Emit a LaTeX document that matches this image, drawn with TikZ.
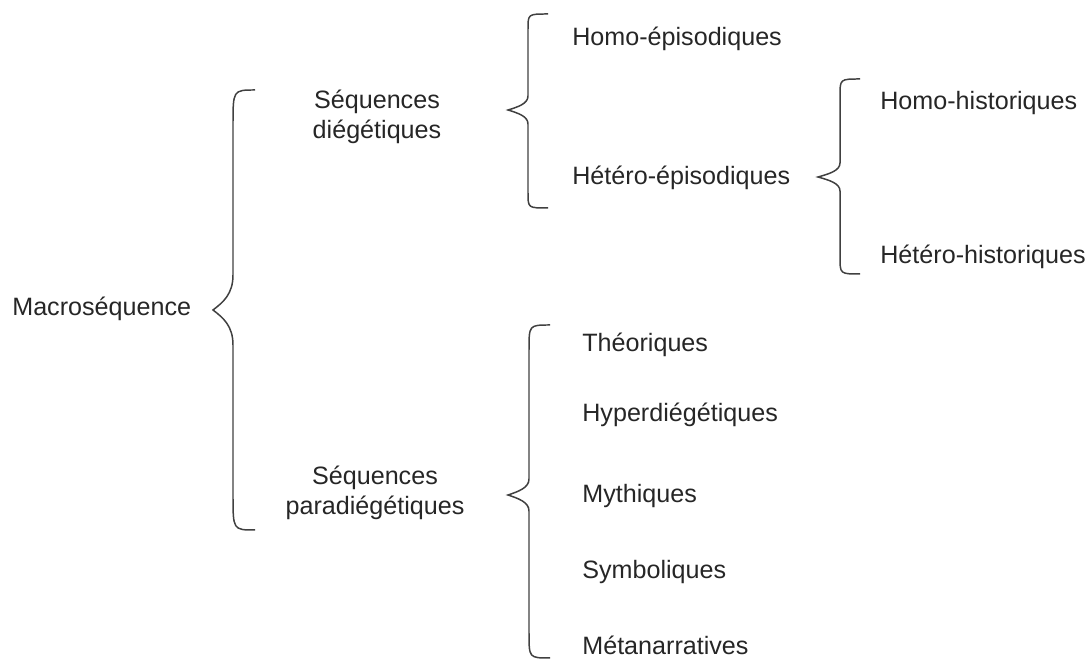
\documentclass[tikz,border=0pt]{standalone}
\usepackage{fontspec}
\setmainfont{Liberation Sans}
\usetikzlibrary{positioning}
\tikzset{
terme/.style={font=\fontsize{14.3}{17}\selectfont, inner sep=0pt, text=black!85},
accolade/.style={line width=0.85pt, draw=black!75}}
% accolade: end x, stem x, tip x, top y, tip y, bottom y, end radius, tip radius
\newcommand\accolade[8]{%
\draw[accolade] (#1,#4) .. controls (#2,#4) .. (#2,#4+#7) -- (#2,#5-#8)
  .. controls (#2,#5-0.45*#8) and (#3+0.5*#2-0.5*#3,#5-0.22*#8) .. (#3,#5)
  .. controls (#3+0.5*#2-0.5*#3,#5+0.22*#8) and (#2,#5+0.45*#8) .. (#2,#5+#8)
  -- (#2,#6-#7) .. controls (#2,#6) .. (#1,#6);}

\begin{document}
\begin{tikzpicture}[x=0.02cm, y=-0.02cm]
\useasboundingbox (0,0) rectangle (1090,661);

            \node[terme, anchor=base west] (macro) at (12,316) {Macroséquence};
            \node[terme, align=center] (diege) at (377,117) {Séquences\\diégétiques};
            \node[terme, align=center] (paradiege) at (375,493) {Séquences\\paradiégétiques};

            \node[terme, anchor=base west] (homoep) at (572,46) {Homo-épisodiques};
            \node[terme, anchor=base west] (heteroep) at (572,185) {Hétéro-épisodiques};
            \node[terme, anchor=base west] (homohist) at (880,110) {Homo-historiques};
            \node[terme, anchor=base west] (heterohist) at (880,264) {Hétéro-historiques};

            \node[terme, anchor=base west] (theo) at (582,352) {Théoriques};
            \node[terme, anchor=base west] (hyper) at (582,422) {Hyperdiégétiques};
            \node[terme, anchor=base west] (myth) at (582,503) {Mythiques};
            \node[terme, anchor=base west] (symb) at (582,579) {Symboliques};
            \node[terme, anchor=base west] (meta) at (582,655) {Métanarratives};

            \accolade{255}{233}{213}{90}{310}{530}{35}{35}
            \accolade{548}{528}{508}{14}{110}{208}{15}{14}
            \accolade{860}{840}{818}{79}{177}{274}{17}{14}
            \accolade{550}{529}{508}{325}{495}{658}{25}{16}

\end{tikzpicture}
\end{document}
